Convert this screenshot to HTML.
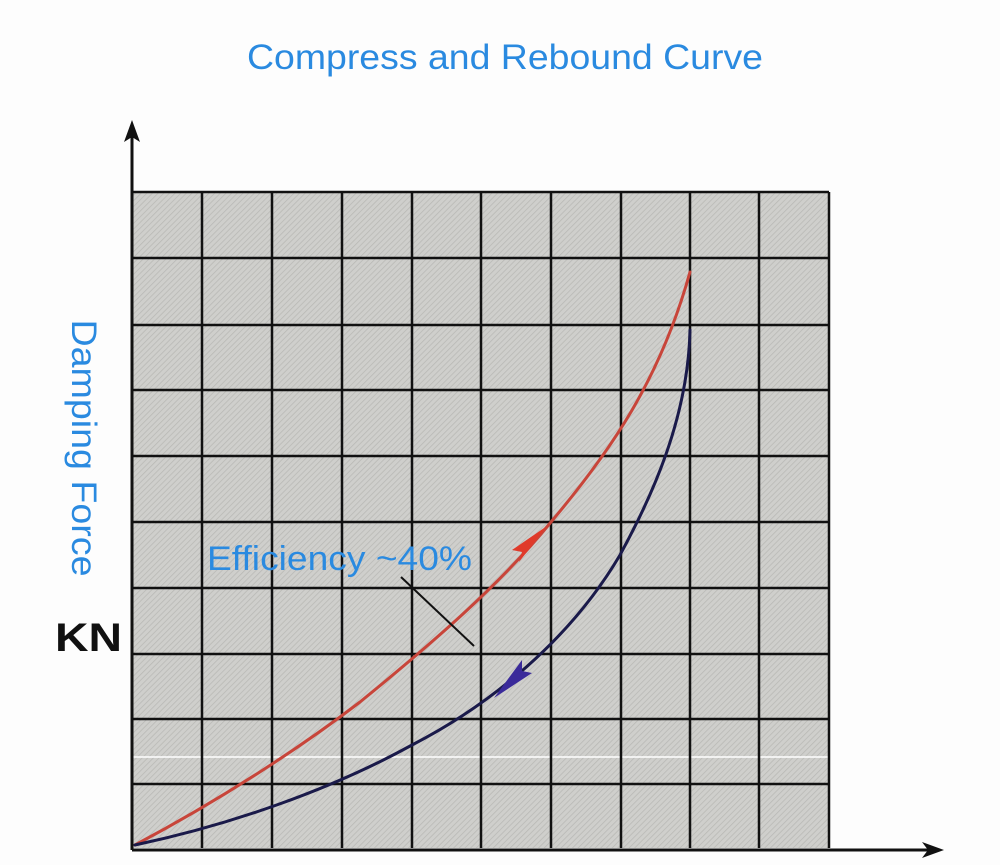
<!DOCTYPE html>
<html><head><meta charset="utf-8"><style>
html,body{margin:0;padding:0;background:#fff;}
svg{display:block;}
</style></head><body>
<svg width="1000" height="865" viewBox="0 0 1000 865" xmlns="http://www.w3.org/2000/svg">
<defs>
<pattern id="hatch" width="4" height="4" patternUnits="userSpaceOnUse" patternTransform="rotate(45)">
<rect width="4" height="4" fill="#cfcfcc"/>
<line x1="0" y1="0" x2="0" y2="4" stroke="#b8b8b4" stroke-width="1.5"/>
</pattern>
</defs>
<rect width="1000" height="865" fill="#fdfdfd"/>
<text x="505" y="69" text-anchor="middle" font-family="Liberation Sans, sans-serif" font-size="35" textLength="516" lengthAdjust="spacingAndGlyphs" fill="#2a8ae0">Compress and Rebound Curve</text>
<rect x="133" y="192" width="696" height="656" fill="url(#hatch)"/>
<line x1="133" y1="757" x2="829" y2="757" stroke="#fff" stroke-width="1.5"/>
<g stroke="#111" stroke-width="2.5">
<line x1="202" y1="192" x2="202" y2="848"/><line x1="272" y1="192" x2="272" y2="848"/>
<line x1="342" y1="192" x2="342" y2="848"/><line x1="412" y1="192" x2="412" y2="848"/>
<line x1="481" y1="192" x2="481" y2="848"/><line x1="551" y1="192" x2="551" y2="848"/>
<line x1="621" y1="192" x2="621" y2="848"/><line x1="690" y1="192" x2="690" y2="848"/>
<line x1="759" y1="192" x2="759" y2="848"/><line x1="829" y1="192" x2="829" y2="848"/>
<line x1="133" y1="192" x2="829" y2="192"/><line x1="133" y1="258" x2="829" y2="258"/>
<line x1="133" y1="325" x2="829" y2="325"/><line x1="133" y1="390" x2="829" y2="390"/>
<line x1="133" y1="456" x2="829" y2="456"/><line x1="133" y1="522" x2="829" y2="522"/>
<line x1="133" y1="588" x2="829" y2="588"/><line x1="133" y1="654" x2="829" y2="654"/>
<line x1="133" y1="719" x2="829" y2="719"/><line x1="133" y1="784" x2="829" y2="784"/>
</g>
<line x1="132" y1="850" x2="930" y2="850" stroke="#111" stroke-width="3"/>
<polygon points="944,850 922,842 928,850 922,858" fill="#111"/>
<line x1="132" y1="850" x2="132" y2="135" stroke="#111" stroke-width="3"/>
<polygon points="132,120 124,142 132,137 140,142" fill="#111"/>
<path fill="none" stroke="#c8453a" stroke-width="3" stroke-linecap="round"
d="M135,845 C220,800 300,748 360,702 C430,645 500,585 551,522 C610,452 660,380 690,272"/>
<path fill="none" stroke="#1a1a4a" stroke-width="3" stroke-linecap="round"
d="M690,330 C688,420 650,500 620,555 C570,640 490,705 412,745 C330,790 230,825 135,845"/>
<polygon points="547,526 512,550 522,552 519,562" fill="#e03a2a"/>
<polygon points="494,698 532,673 522,671 522,660" fill="#3a2a9a"/>
<line x1="401" y1="577" x2="474" y2="646" stroke="#111" stroke-width="2"/>
<text x="207" y="570" font-family="Liberation Sans, sans-serif" font-size="34" textLength="265" lengthAdjust="spacingAndGlyphs" fill="#2a8ae0">Efficiency ~40%</text>
<text transform="translate(72,448) rotate(90)" text-anchor="middle" font-family="Liberation Sans, sans-serif" font-size="35" textLength="257" lengthAdjust="spacingAndGlyphs" fill="#2a8ae0">Damping Force</text>
<text x="55" y="651" font-family="Liberation Sans, sans-serif" font-size="40" font-weight="bold" textLength="67" lengthAdjust="spacingAndGlyphs" fill="#111">KN</text>
</svg>
</body></html>
